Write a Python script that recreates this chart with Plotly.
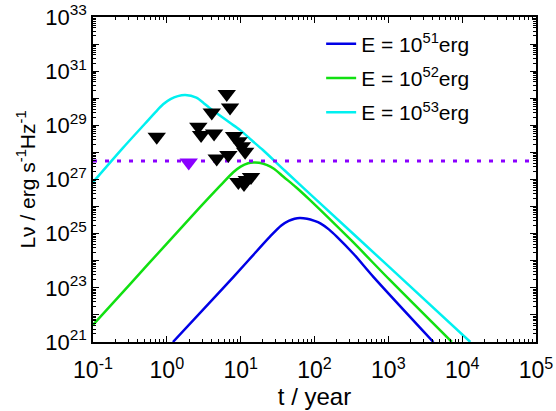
import plotly.graph_objects as go

# ---- data ----
t_e51 = [1.21, 5.62, 12.6, 25.1, 35.5, 44.7, 53.7, 63.1, 79.4, 100, 120, 158, 200, 339, 631, 4074]
L_e51 = [1e21, 8.9e22, 1.0e24, 7.9e24, 2.0e25, 2.95e25, 3.55e25, 3.8e25, 3.55e25, 2.95e25,
         2.4e25, 1.41e25, 7.8e24, 1.78e24, 2.5e23, 1e21]

t_e52 = [0.1, 0.316, 1.0, 2.82, 5.25, 7.94, 10.0, 12.6, 14.8, 17.8, 22.4, 28.2, 38.0, 56.2,
         87.1, 316, 1047, 7244]
L_e52 = [4.3e21, 1.35e23, 4.3e24, 9.5e25, 5.8e26, 1.86e27, 3.0e27, 4.0e27, 4.27e27, 4.17e27,
         3.47e27, 2.51e27, 1.26e27, 5.2e26, 1.74e26, 5.6e24, 1.95e23, 1e21]

t_e53 = [0.1, 0.251, 0.501, 0.708, 0.891, 1.12, 1.41, 1.78, 2.51, 3.16, 3.72, 5.01, 7.08,
         9.77, 14.1, 20.0, 39.8, 107, 1000, 12900]
L_e53 = [7.9e26, 1.41e28, 1.12e29, 3.16e29, 6.0e29, 9.3e29, 1.2e30, 1.32e30, 1.05e30, 6.6e29,
         4.6e29, 2.51e29, 1.26e29, 6.8e28, 2.8e28, 1.23e28, 2.1e27, 1.74e26, 6.3e23, 1e21]

lim_t = [0.73, 6.48, 7.18, 4.06, 2.67, 2.91, 4.36, 8.14, 9.37, 10.4, 11.5,
         4.74, 6.81, 9.3, 11.1, 12.1, 13.8]
lim_L = [3.8e28, 1.44e30, 4.56e29, 2.98e29, 8.9e28, 4.4e28, 5.0e28, 4.0e28,
         2.6e28, 1.7e28, 1.06e28, 6.0e27, 8.0e27, 8.1e26, 6.8e26, 9.6e26, 1.23e27]

special_t = [1.98]
special_L = [4.2e27]

level_t = [0.1, 1e5]
level_L = [4.8e27, 4.8e27]

energy_labels = ["E = 10<sup>51</sup>erg", "E = 10<sup>52</sup>erg", "E = 10<sup>53</sup>erg"]
x_exps = [-1, 0, 1, 2, 3, 4, 5]
y_exps = list(range(21, 34))

# ---- figure ----
fig = go.Figure()
for i, (t, L, name, col) in enumerate([(t_e51, L_e51, energy_labels[0], "#0000e6"),
                                       (t_e52, L_e52, energy_labels[1], "#11e011"),
                                       (t_e53, L_e53, energy_labels[2], "#00f0f0")]):
    fig.add_trace(go.Scatter(x=t, y=L, mode="lines", name=name, legendgroup="g%d" % i,
                             line=dict(color=col, width=2.5, shape="spline", smoothing=0.8)))

fig.add_trace(go.Scatter(x=level_t, y=level_L, mode="lines", showlegend=False,
                         line=dict(color="#8a00ff", width=3, dash="4px,8px")))
fig.add_trace(go.Scatter(x=lim_t, y=lim_L, mode="markers", showlegend=False,
                         marker=dict(symbol="triangle-down", size=16, color="black")))
fig.add_trace(go.Scatter(x=special_t, y=special_L, mode="markers", showlegend=False,
                         marker=dict(symbol="triangle-down", size=16, color="#8a00ff")))

def minor_vals(lo, hi):
    return [k * 10.0 ** e for e in range(lo, hi) for k in range(2, 10)]

font = "Liberation Sans, Arial, sans-serif"
fig.update_layout(
    width=556, height=411,
    margin=dict(l=93, r=20, t=17, b=69),
    paper_bgcolor="white", plot_bgcolor="white",
    font=dict(family=font, size=21, color="black"),
    legend=dict(x=0.515, y=0.98, xanchor="left", yanchor="top", traceorder="grouped",
                bgcolor="rgba(0,0,0,0)", font=dict(size=21), tracegroupgap=4),
)
fig.update_xaxes(
    type="log", range=[-1, 5], automargin=False,
    tickmode="array", tickvals=[10.0 ** e for e in x_exps],
    ticktext=["10<sup>%d</sup>" % e for e in x_exps],
    ticks="inside", ticklen=6, tickwidth=1.2, tickcolor="black",
    minor=dict(tickmode="array", tickvals=minor_vals(-1, 5), ticks="inside",
               ticklen=3, tickwidth=1, tickcolor="black"),
    showline=True, linecolor="black", linewidth=1.5, mirror="allticks",
    showgrid=False, zeroline=False,
    tickfont=dict(size=23), ticklabelstandoff=7,
    title=dict(text="t / year", font=dict(size=24), standoff=5),
)
fig.update_yaxes(
    type="log", range=[21, 33], automargin=False,
    tickmode="array", tickvals=[10.0 ** e for e in y_exps],
    ticktext=[("10<sup>%d</sup>" % e) if e % 2 == 1 else "" for e in y_exps],
    ticks="inside", ticklen=6, tickwidth=1.2, tickcolor="black",
    minor=dict(tickmode="array", tickvals=minor_vals(21, 33), ticks="inside",
               ticklen=3, tickwidth=1, tickcolor="black"),
    showline=True, linecolor="black", linewidth=1.5, mirror="allticks",
    showgrid=False, zeroline=False,
    tickfont=dict(size=22),
    title=dict(text="Lν / erg s<sup>-1</sup>Hz<sup>-1</sup>", font=dict(size=21), standoff=4),
)
fig.write_html("out.html", config={"displayModeBar": False},
               post_script="document.body.style.margin='0px';document.body.style.overflow='hidden';")
